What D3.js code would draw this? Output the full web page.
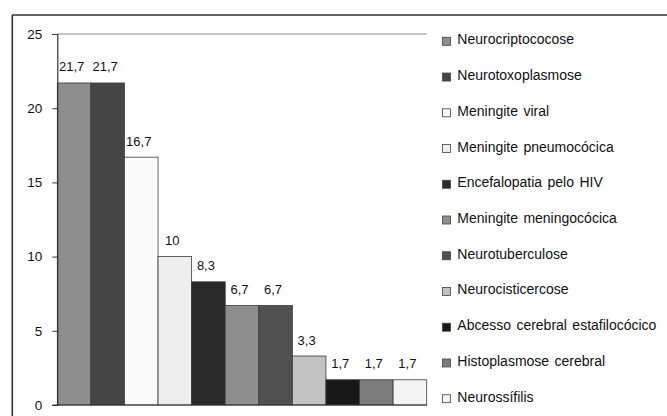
<!DOCTYPE html>
<html><head><meta charset="utf-8">
<script src="https://cdn.jsdelivr.net/npm/d3@7"></script>
<style>body{margin:0;background:#fff}svg{display:block}text{font-family:"Liberation Sans",Arial,sans-serif;fill:#111}</style>
</head><body>
<svg id="c" width="667" height="416"></svg>
<script>
const categories = ["Neurocriptococose","Neurotoxoplasmose","Meningite viral","Meningite pneumocócica","Encefalopatia pelo HIV","Meningite meningocócica","Neurotuberculose","Neurocisticercose","Abcesso cerebral estafilocócico","Histoplasmose cerebral","Neurossífilis"];
const values = [21.7,21.7,16.7,10,8.3,6.7,6.7,3.3,1.7,1.7,1.7];
const valueLabels = ["21,7","21,7","16,7","10","8,3","6,7","6,7","3,3","1,7","1,7","1,7"];
const colors = ["#8e8e8e","#454545","#fbfbfb","#eeeeee","#2a2a2a","#8e8e8e","#505050","#c2c2c2","#181818","#7c7c7c","#f4f4f4"];
const yTicks = [0,5,10,15,20,25];

const svg = d3.select("#c");
const x0 = 57.3, x1 = 426.7, yBottom = 405, yTop = 34;
const x = d3.scaleBand().domain(categories).range([x0,x1]).padding(0);
const y = d3.scaleLinear().domain([0,25]).range([yBottom,yTop]);

// outer frame
svg.append("line").attr("x1",12).attr("x2",667).attr("y1",15).attr("y2",15).attr("stroke","#333").attr("stroke-width",1.6);
svg.append("line").attr("x1",12.3).attr("x2",12.3).attr("y1",15).attr("y2",416).attr("stroke","#333").attr("stroke-width",1.6);

// top gridline
svg.append("line").attr("x1",x0).attr("x2",x1).attr("y1",y(25)).attr("y2",y(25)).attr("stroke","#888").attr("stroke-width",1);

// bars
svg.selectAll("rect.bar").data(values).join("rect").attr("class","bar")
  .attr("x",(d,i)=>x(categories[i]))
  .attr("y",d=>y(d))
  .attr("width",x.bandwidth())
  .attr("height",d=>yBottom-y(d))
  .attr("fill",(d,i)=>colors[i])
  .attr("stroke","#3a3a3a").attr("stroke-width",0.8);

// value labels
svg.selectAll("text.vl").data(values).join("text").attr("class","vl")
  .attr("x",(d,i)=>x(categories[i])+x.bandwidth()/2-2.5)
  .attr("y",d=>y(d)-11.5)
  .attr("text-anchor","middle").attr("font-size","13px")
  .text((d,i)=>valueLabels[i]);

// y axis
const ax = d3.axisLeft(y).tickValues(yTicks).tickSize(5).tickPadding(10).tickFormat(d3.format("d"));
const g = svg.append("g").attr("transform",`translate(${x0},0)`).call(ax);
g.select(".domain").attr("stroke","#333").attr("stroke-width",1.2);
g.selectAll(".tick line").attr("stroke","#333");
g.selectAll(".tick text").attr("font-size","13.5px").attr("font-family","Liberation Sans, Arial, sans-serif").attr("fill","#111");

// baseline
svg.append("line").attr("x1",x0-5).attr("x2",x1).attr("y1",yBottom).attr("y2",yBottom).attr("stroke","#333").attr("stroke-width",1.2);

// legend
const lg = svg.append("g");
const rowY = i => 44.3 + 35.74*i;
categories.forEach((c,i)=>{
  lg.append("rect").attr("x",442.5).attr("y",rowY(i)-7).attr("width",8).attr("height",8)
    .attr("fill",colors[i]).attr("stroke","#444").attr("stroke-width",0.8);
  lg.append("text").attr("x",457.3).attr("y",rowY(i)).attr("font-size","14px").attr("word-spacing","1.5px").text(c);
});
</script>
</body></html>
